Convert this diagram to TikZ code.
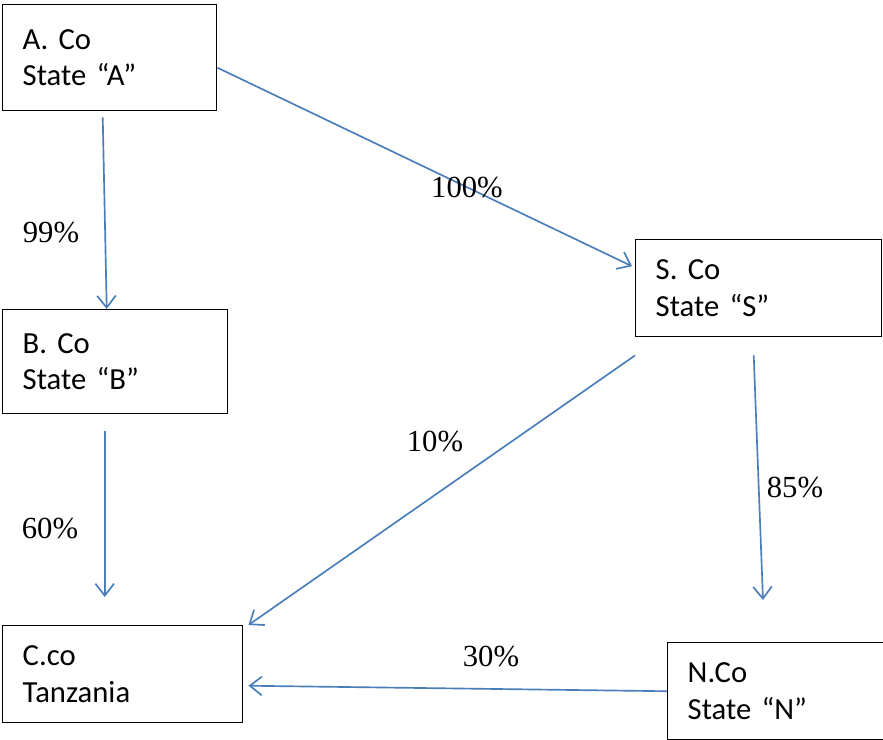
\documentclass[tikz,border=0pt]{standalone}
\usepackage{fontspec}
\setmainfont{Liberation Serif}
\newfontfamily\boxfont{Carlito}
\usetikzlibrary{arrows.meta,calc}

\definecolor{linkblue}{RGB}{74,126,187}

\tikzset{
        company/.style={draw, line width=1.1pt, anchor=north west, align=left,
                inner xsep=15pt,
                font=\boxfont\fontsize{23}{27.5}\selectfont\frenchspacing},
        link/.style={draw=linkblue, line width=1.25pt,
                -{Straight Barb[length=9pt,width=14pt]}},
        share/.style={font=\fontsize{23}{28}\selectfont}
}

\begin{document}
\begin{tikzpicture}[x=0.75pt, y=-0.75pt]

        \clip (0,0) rectangle (883,740);
        \useasboundingbox (0,0) rectangle (883,740);

        \node[company, text width=130.5pt, minimum height=79.5pt] (aco) at (2,4) {A. Co\\State “A”};
        \node[company, text width=138.75pt, minimum height=78pt] (bco) at (2,309) {B. Co\\State “B”};
        \node[company, text width=154.5pt, minimum height=72.75pt] (sco) at (635,239) {S. Co\\State “S”};
        \node[company, text width=150pt, minimum height=72.75pt] (cco) at (2,625) {C.co\\Tanzania};
        \node[company, text width=150pt, minimum height=72.75pt] (nco) at (667,642) {N.Co\\State “N”};

        \draw[link] ($(aco.south)+(-7,6)$) -- ($(bco.north)+(-8.5,0)$);
        \draw[link] ($(aco.east)+(0,10)$) -- ($(sco.west)+(-3,-22)$);
        \draw[link] ($(sco.south west)+(0,18)$) -- ($(cco.north east)+(5,0)$);
        \draw[link] ($(sco.south)+(-5,18)$) -- ($(nco.north west)+(96,-42)$);
        \draw[link] ($(bco.south)+(-10.5,17)$) -- ($(cco.north)+(-18,-28)$);
        \draw[link] (nco.west) -- ($(cco.east)+(5,11.5)$);

        \node[share] (p99) at (51,232) {99\%};
        \node[share] (p100) at (467,188) {100\%};
        \node[share] (p10) at (435,441) {10\%};
        \node[share] (p85) at (795,487) {85\%};
        \node[share] (p60) at (50,528) {60\%};
        \node[share] (p30) at (491,656) {30\%};

\end{tikzpicture}
\end{document}
